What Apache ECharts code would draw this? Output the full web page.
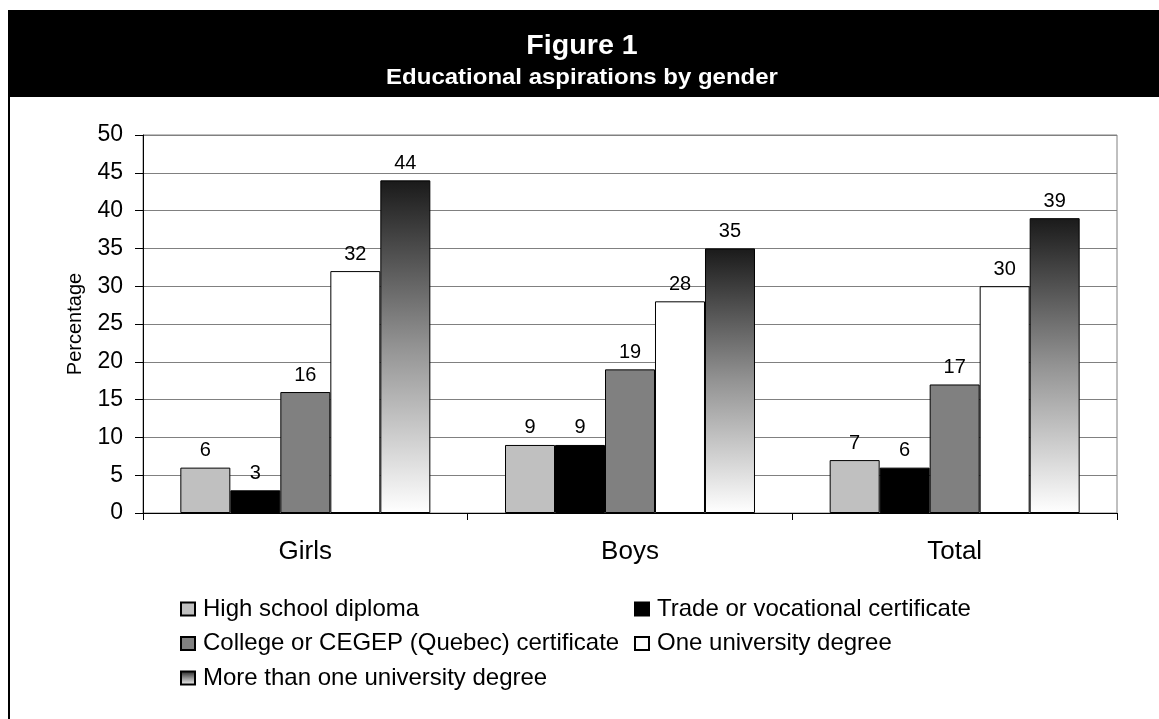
<!DOCTYPE html>
<html>
<head>
<meta charset="utf-8">
<title>Figure 1 - Educational aspirations by gender</title>
<script src="https://cdn.jsdelivr.net/npm/echarts@6/dist/echarts.min.js"></script>
<style>
  html, body { margin: 0; padding: 0; background: #ffffff; }
  #chart { width: 1159px; height: 719px; }
</style>
</head>
<body>
<div id="chart"></div>
<script>
// Categories along the x axis
const groups = ['Girls', 'Boys', 'Total'];

// Percentages per aspiration level
const highSchool   = [6, 9, 7];
const trade        = [3, 9, 6];
const college      = [16, 19, 17];
const oneDegree    = [32, 28, 30];
const moreDegrees  = [44, 35, 39];

// Series names
const seriesNames = [
  'High school diploma',
  'Trade or vocational certificate',
  'College or CEGEP (Quebec) certificate',
  'One university degree',
  'More than one university degree'
];

// Y axis range
const yMin = 0;
const yMax = 50;
const yStep = 5;

const FONT = '"Liberation Sans", Arial, sans-serif';

const darkToWhite = {
  type: 'linear', x: 0, y: 0, x2: 0, y2: 1,
  colorStops: [
    { offset: 0, color: '#1a1a1a' },
    { offset: 0.5, color: '#939393' },
    { offset: 1, color: '#ffffff' }
  ]
};

const fills = ['#c0c0c0', '#000000', '#808080', '#ffffff', darkToWhite];
const values = [highSchool, trade, college, oneDegree, moreDegrees];

const series = values.map((v, i) => ({
  name: seriesNames[i],
  type: 'bar',
  data: v,
  barGap: '0%',
  barCategoryGap: '23%',
  itemStyle: { color: fills[i], borderColor: '#000000', borderWidth: 1 },
  label: {
    show: true,
    position: 'top',
    distance: 7,
    color: '#000000',
    fontFamily: FONT,
    fontSize: 20
  },
  emphasis: { disabled: true }
}));

const legendText = {
  color: '#000000',
  fontFamily: FONT,
  fontSize: 24,
  lineHeight: 24,
  padding: [0, 0, 0, 3]
};

const legendBase = {
  orient: 'vertical',
  top: 597,
  padding: 0,
  icon: 'rect',
  itemWidth: 14,
  itemHeight: 13,
  itemGap: 10.5,
  selectedMode: false,
  textStyle: legendText
};

const chart = echarts.init(document.getElementById('chart'), null, { renderer: 'canvas' });

chart.setOption({
  animation: false,
  backgroundColor: '#ffffff',
  textStyle: { fontFamily: FONT },
  graphic: [
    // title band
    { type: 'rect', shape: { x: 8, y: 10, width: 1151, height: 87 }, style: { fill: '#000000' }, z: 10 },
    { type: 'text', x: 582, y: 47, z: 11, scaleX: 1.06,
      style: { text: 'Figure 1', fill: '#ffffff', font: 'bold 27px ' + FONT, textAlign: 'center', textVerticalAlign: 'middle' } },
    { type: 'text', x: 582, y: 78, z: 11, scaleX: 1.09,
      style: { text: 'Educational aspirations by gender', fill: '#ffffff', font: 'bold 22px ' + FONT, textAlign: 'center', textVerticalAlign: 'middle' } },
    // left frame edge
    { type: 'rect', shape: { x: 8, y: 97, width: 2, height: 622 }, style: { fill: '#000000' }, z: 10 }
  ],
  grid: {
    left: 143,
    right: 42,
    top: 135,
    bottom: 206,
    show: true,
    borderColor: '#808080',
    borderWidth: 1,
    backgroundColor: 'transparent'
  },
  legend: [
    Object.assign({}, legendBase, {
      left: 180,
      data: [seriesNames[0], seriesNames[2], seriesNames[4]]
    }),
    Object.assign({}, legendBase, {
      left: 634,
      data: [seriesNames[1], seriesNames[3]]
    })
  ],
  xAxis: {
    type: 'category',
    data: groups,
    axisLine: { lineStyle: { color: '#000000', width: 1 } },
    axisTick: { show: true, alignWithLabel: false, length: 7, lineStyle: { color: '#000000' } },
    axisLabel: { color: '#000000', fontFamily: FONT, fontSize: 26, margin: 26 },
    splitLine: { show: false }
  },
  yAxis: {
    type: 'value',
    min: yMin,
    max: yMax,
    interval: yStep,
    name: 'Percentage',
    nameLocation: 'middle',
    nameGap: 58,
    nameTextStyle: { color: '#000000', fontFamily: FONT, fontSize: 20 },
    axisLine: { show: true, lineStyle: { color: '#000000', width: 1 } },
    axisTick: { show: true, length: 8, lineStyle: { color: '#000000' } },
    axisLabel: { color: '#000000', fontFamily: FONT, fontSize: 23, margin: 20 },
    splitLine: { show: true, lineStyle: { color: '#808080', width: 1 } }
  },
  series: series
});
</script>
</body>
</html>
